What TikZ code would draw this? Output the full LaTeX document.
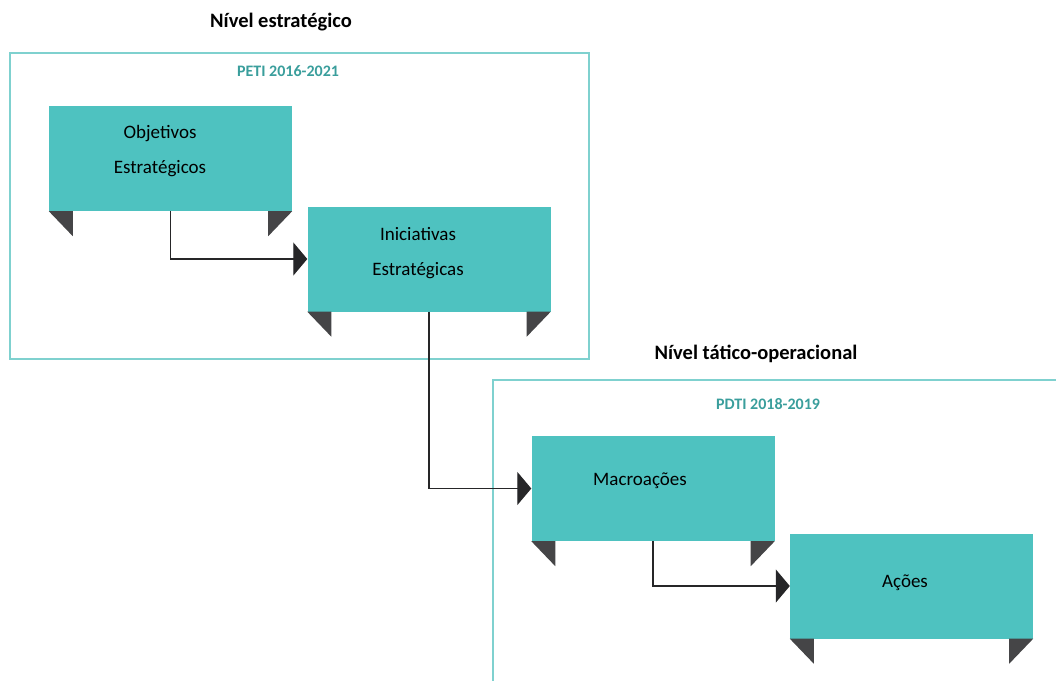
\documentclass[tikz,border=0pt]{standalone}
\usepackage{fontspec}
\setmainfont{Carlito}
\usetikzlibrary{arrows.meta}

\definecolor{boxteal}{HTML}{4EC2C0}
\definecolor{frameteal}{HTML}{7FD1CF}
\definecolor{titleteal}{HTML}{3A9E9C}
\definecolor{ribbon}{HTML}{454547}
\definecolor{arrowdark}{HTML}{262628}

\tikzset{
  stepbox/.style={fill=boxteal, minimum width=243pt, minimum height=105pt, inner sep=0pt},
  boxtext/.style={align=center, inner sep=0pt, font=\fontsize{19}{35}\selectfont},
  frame/.style={draw=frameteal, line width=1.2pt},
  leveltitle/.style={font=\fontsize{20.5}{24}\selectfont\bfseries},
  plantitle/.style={text=titleteal, font=\fontsize{16}{18}\selectfont\bfseries},
  conn/.style={draw=arrowdark, line width=1.3pt, -{Triangle[length=14pt, width=33pt]}},
  fold/.style={fill=ribbon}
}

\begin{document}
\begin{tikzpicture}[x=1pt, y=-1pt]
		\useasboundingbox (0,0) rectangle (1056,681);
		% frames
		\draw[frame] (10,53) rectangle (589,359);
		\draw[frame, line width=2pt] (209,53) -- (449,53);
		\draw[frame] (1056,380) -- (493,380) -- (493,681);
		\draw[frame, line width=2pt] (653,380) -- (995,380);
		\node (nivelest) [leveltitle] at (281,22) {Nível estratégico};
		\node (peti) [plantitle] at (288,71) {PETI 2016-2021};
		\node (niveltat) [leveltitle] at (756,354) {Nível tático-operacional};
		\node (pdti) [plantitle] at (768,404) {PDTI 2018-2019};
		% boxes
		\node (obj) [stepbox] at (170.5,158.5) {};
		\node (ini) [stepbox] at (429,259) {};
		\node (mac) [stepbox] at (653,488.5) {};
		\node (acoes) [stepbox] at (911.5,586) {};
		\node (objtext) [boxtext] at (160,151) {Objetivos\\Estratégicos};
		\node (initext) [boxtext] at (418,253) {Iniciativas\\Estratégicas};
		\node (mactext) [boxtext] at (640,481) {Macroações};
		\node (acoestext) [boxtext] at (905,583) {Ações};
		% ribbon folds
		\foreach \b in {obj, ini, mac, acoes} {
			\fill[fold] (\b.south west) -- ++(24,0) -- ++(0,25) -- cycle;
			\fill[fold] (\b.south east) -- ++(-24,0) -- ++(0,25) -- cycle;
		}
		\draw[conn] (obj.south) |- (ini.west);
		\draw[conn] (ini.south) |- (mac.west);
		\draw[conn] (mac.south) |- (acoes.west);
\end{tikzpicture}
\end{document}
